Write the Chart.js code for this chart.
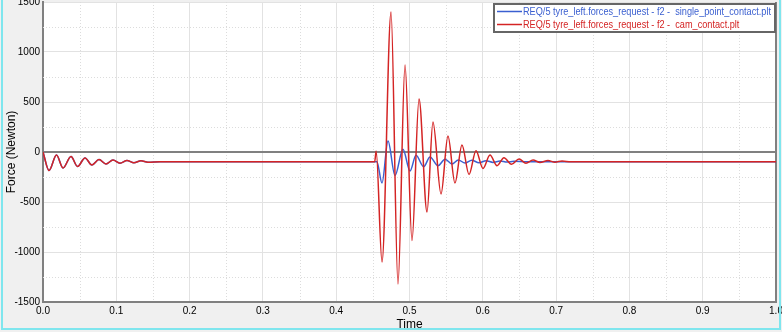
<!DOCTYPE html>
<html>
<head>
<meta charset="utf-8">
<script src="https://cdn.jsdelivr.net/npm/chart.js@4/dist/chart.umd.min.js"></script>
<style>
  html, body { margin: 0; padding: 0; background: #f0f0f0; }
  #wrap { width: 782px; height: 332px; }
</style>
</head>
<body>
<div id="wrap"><canvas id="forceChart" width="782" height="332"></canvas></div>
<script>
// values (time in s, force in N)
const seriesLabels = [
    "REQ/5 tyre_left.forces_request - f2 -  single_point_contact.plt",
    "REQ/5 tyre_left.forces_request - f2 -  cam_contact.plt"
];
const seriesColors = ['#3a5fd0', '#d42424'];

const blueTime = [0, 0.0082, 0.0184, 0.0273, 0.0382, 0.0471, 0.0573, 0.0668, 0.0764, 0.0859,
    0.0955, 0.105, 0.1146, 0.124, 0.1337, 0.1432, 0.16,
    0.4555, 0.4625, 0.4707, 0.4802, 0.4911, 0.5007, 0.5089, 0.5193, 0.528, 0.5389, 0.5484,
    0.558, 0.5666, 0.5757, 0.585, 0.5948, 0.6044, 0.614, 0.6235, 0.633, 0.6426, 0.66, 1.0];
const blueForce = [0, -185, -30, -160, -45, -145, -60, -130, -75, -120,
    -80, -112, -85, -107, -88, -102, -97,
    -97, -310, 110, -235, 28, -190, -33, -147, -50, -137, -72,
    -120, -80, -110, -82, -108, -87, -104, -90, -101, -93, -97, -97];

const redTime = [0, 0.0082, 0.0184, 0.0273, 0.0382, 0.0471, 0.0573, 0.0668, 0.0764, 0.0859,
    0.0955, 0.105, 0.1146, 0.124, 0.1337, 0.1432, 0.16,
    0.4525, 0.4545, 0.4625, 0.4748, 0.4843, 0.4939, 0.5034, 0.513, 0.5239, 0.532, 0.543,
    0.5525, 0.562, 0.5716, 0.5812, 0.5907, 0.6003, 0.6098, 0.6194, 0.6289, 0.6391, 0.6494,
    0.6589, 0.6685, 0.678, 0.6889, 0.6985, 0.7081, 0.72, 0.74, 1.0];
const redForce = [0, -185, -30, -160, -45, -145, -60, -130, -75, -120,
    -80, -112, -85, -107, -88, -102, -97,
    -97, 10, -1100, 1400, -1320, 870, -885, 530, -600, 300, -420,
    160, -310, 70, -225, 13, -165, -30, -137, -57, -123, -70,
    -112, -80, -105, -86, -102, -90, -98, -97, -97];

const xTicks = [0, 0.1, 0.2, 0.3, 0.4, 0.5, 0.6, 0.7, 0.8, 0.9, 1.0];
const yTicks = [-1500, -1000, -500, 0, 500, 1000, 1500];

function toPoints(ts, vs) {
    return ts.map((t, i) => ({ x: t, y: vs[i] }));
}

const FONT = "'Liberation Sans', Arial, sans-serif";

// background, minor dotted grid, zero line and frame
const framePlugin = {
    id: 'frame',
    beforeDraw(chart) {
        const { ctx, chartArea: a } = chart;
        ctx.save();
        ctx.fillStyle = '#f0f0f0';
        ctx.fillRect(0, 0, chart.width, chart.height);
        ctx.fillStyle = '#ffffff';
        ctx.fillRect(a.left, a.top, a.right - a.left, a.bottom - a.top);
        ctx.restore();
    },
    beforeDatasetsDraw(chart) {
        const { ctx, chartArea: a, scales } = chart;
        ctx.save();
        ctx.strokeStyle = '#dcdcdc';
        ctx.lineWidth = 1;
        ctx.setLineDash([1, 2]);
        for (let i = 0; i < xTicks.length - 1; i++) {
            const px = Math.round(scales.x.getPixelForValue((xTicks[i] + xTicks[i + 1]) / 2)) + 0.5;
            ctx.beginPath(); ctx.moveTo(px, a.top); ctx.lineTo(px, a.bottom); ctx.stroke();
        }
        for (let i = 0; i < yTicks.length - 1; i++) {
            const py = Math.round(scales.y.getPixelForValue((yTicks[i] + yTicks[i + 1]) / 2)) + 0.5;
            ctx.beginPath(); ctx.moveTo(a.left, py); ctx.lineTo(a.right, py); ctx.stroke();
        }
        ctx.setLineDash([]);
        ctx.strokeStyle = '#808080';
        ctx.lineWidth = 2;
        const y0 = scales.y.getPixelForValue(0);
        ctx.beginPath(); ctx.moveTo(a.left, y0); ctx.lineTo(a.right, y0); ctx.stroke();
        ctx.beginPath(); ctx.moveTo(a.right, a.top); ctx.lineTo(a.right, a.bottom); ctx.stroke();
        ctx.restore();
    },
    afterDraw(chart) {
        const { ctx } = chart;
        ctx.save();
        // legend box
        const bx = 494, by = 4, bw = 281, bh = 28;
        ctx.fillStyle = '#ffffff';
        ctx.fillRect(bx, by, bw, bh);
        ctx.strokeStyle = '#666666';
        ctx.lineWidth = 2;
        ctx.strokeRect(bx, by, bw, bh);
        ctx.font = '11px ' + FONT;
        ctx.textBaseline = 'middle';
        // squeeze text so the longest label fits the box like the original
        const longest = Math.max(...seriesLabels.map(l => ctx.measureText(l).width));
        const k = Math.min(1, 248 / longest);
        seriesLabels.forEach((lab, i) => {
            const ly = by + 7.5 + i * 13;
            ctx.strokeStyle = seriesColors[i];
            ctx.lineWidth = 1.5;
            ctx.beginPath(); ctx.moveTo(bx + 3, ly); ctx.lineTo(bx + 28, ly); ctx.stroke();
            ctx.fillStyle = seriesColors[i];
            ctx.fillText(lab, bx + 29, ly, ctx.measureText(lab).width * k);
        });
        // cyan window edge
        ctx.strokeStyle = '#7fe6ee';
        ctx.lineWidth = 2;
        ctx.beginPath();
        ctx.moveTo(2, 0); ctx.lineTo(2, chart.height - 3);
        ctx.lineTo(chart.width - 2, chart.height - 3);
        ctx.lineTo(chart.width - 2, 0);
        ctx.stroke();
        ctx.restore();
    }
};

new Chart(document.getElementById('forceChart').getContext('2d'), {
    type: 'line',
    data: {
        datasets: [{
            label: seriesLabels[0],
            data: toPoints(blueTime, blueForce),
            borderColor: seriesColors[0],
            borderWidth: 1.5,
            pointRadius: 0,
            cubicInterpolationMode: 'monotone',
            order: 1
        }, {
            label: seriesLabels[1],
            data: toPoints(redTime, redForce),
            borderColor: seriesColors[1],
            borderWidth: 1.5,
            pointRadius: 0,
            cubicInterpolationMode: 'monotone',
            order: 0
        }]
    },
    options: {
        responsive: false,
        animation: false,
        events: [],
        layout: { padding: { top: 2, right: 6, bottom: 0, left: 0 } },
        plugins: { legend: { display: false }, tooltip: { enabled: false } },
        scales: {
            x: {
                type: 'linear',
                min: 0, max: 1,
                afterBuildTicks: (s) => { s.ticks = xTicks.map(v => ({ value: v })); },
                afterFit: (s) => { s.height = 30; s.paddingLeft = 0; s.paddingRight = 0; },
                ticks: {
                    callback: v => v.toFixed(1),
                    font: { family: FONT, size: 10 },
                    color: '#000',
                    padding: 3,
                    maxRotation: 0,
                    autoSkip: false
                },
                grid: { color: '#e2e2e2', drawTicks: false },
                border: { color: '#808080', width: 2 },
                title: { display: true, text: 'Time', font: { family: FONT, size: 12 }, color: '#000', padding: 0 }
            },
            y: {
                min: -1500, max: 1500,
                afterBuildTicks: (s) => { s.ticks = yTicks.map(v => ({ value: v })); },
                afterFit: (s) => { s.width = 43; s.paddingTop = 0; s.paddingBottom = 0; },
                ticks: {
                    callback: v => String(v),
                    font: { family: FONT, size: 10 },
                    color: '#000',
                    padding: 3
                },
                grid: { color: '#e2e2e2', drawTicks: false },
                border: { color: '#808080', width: 2 },
                title: { display: true, text: 'Force (Newton)', font: { family: FONT, size: 12 }, color: '#000', padding: { top: 4, bottom: 0 } }
            }
        }
    },
    plugins: [framePlugin]
});
</script>
</body>
</html>
